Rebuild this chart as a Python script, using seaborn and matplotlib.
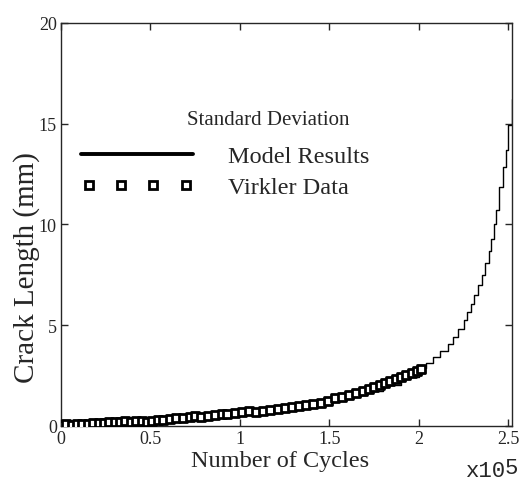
import seaborn as sns
import pandas as pd
import matplotlib.pyplot as plt
from matplotlib.lines import Line2D
from matplotlib.legend_handler import HandlerLine2D

# Model results (x in units of 1e5 cycles, std dev of crack length in mm)
model_x = [0.00, 0.10, 0.20, 0.30, 0.40, 0.50, 0.60, 0.70, 0.80, 0.90,
           1.00, 1.10, 1.20, 1.30, 1.40, 1.50, 1.60, 1.70, 1.80, 1.90,
           2.00, 2.04, 2.08, 2.12, 2.16, 2.19, 2.22, 2.25, 2.27, 2.29,
           2.31, 2.33, 2.35, 2.37, 2.39, 2.40, 2.42, 2.43, 2.45, 2.47,
           2.486, 2.50, 2.52]
model_y = [0.05, 0.10, 0.15, 0.20, 0.25, 0.30, 0.36, 0.44, 0.52, 0.62,
           0.72, 0.82, 0.92, 1.02, 1.15, 1.32, 1.52, 1.75, 2.05, 2.42,
           2.90, 3.15, 3.40, 3.70, 4.05, 4.40, 4.80, 5.25, 5.65, 6.05,
           6.50, 7.00, 7.50, 8.10, 8.70, 9.30, 10.00, 10.70, 11.85, 12.85,
           13.70, 14.95, 16.25]

# Virkler data
virk_x = [0.00, 0.03, 0.06, 0.09, 0.12, 0.15, 0.18, 0.21, 0.24, 0.27,
          0.30, 0.33, 0.36, 0.39, 0.42, 0.45, 0.48, 0.51, 0.54, 0.57,
          0.61, 0.64, 0.68, 0.72, 0.75, 0.78, 0.82, 0.86, 0.90, 0.93,
          0.97, 1.01, 1.05, 1.09, 1.13, 1.17, 1.21, 1.25, 1.29, 1.33,
          1.37, 1.41, 1.45, 1.49, 1.53, 1.57, 1.61, 1.65, 1.69, 1.72,
          1.75, 1.78, 1.81, 1.84, 1.87, 1.90, 1.93, 1.96, 1.99, 2.01]
virk_y = [0.05, 0.08, 0.06, 0.10, 0.12, 0.10, 0.14, 0.13, 0.16, 0.20,
          0.22, 0.20, 0.24, 0.22, 0.25, 0.23, 0.22, 0.26, 0.30, 0.28,
          0.35, 0.38, 0.42, 0.45, 0.48, 0.46, 0.52, 0.55, 0.62, 0.60,
          0.66, 0.70, 0.72, 0.68, 0.75, 0.80, 0.86, 0.90, 0.96, 1.00,
          1.04, 1.10, 1.16, 1.24, 1.38, 1.45, 1.55, 1.62, 1.75, 1.85,
          1.95, 2.05, 2.15, 2.22, 2.35, 2.45, 2.52, 2.62, 2.72, 2.85]

xticks = [0, 0.5, 1, 1.5, 2, 2.5]
xticklabels = ["0", "0.5", "1", "1.5", "2", "2.5"]
yticks = [0, 5, 10, 15, 20]

model = pd.DataFrame({"cycles": model_x, "std": model_y})
virk = pd.DataFrame({"cycles": virk_x, "std": virk_y})

sns.set_style("ticks")
plt.rcParams["font.family"] = ["Liberation Serif", "DejaVu Serif"]

fig = plt.figure(figsize=(5.26, 4.85), dpi=100)
ax = fig.add_axes([61 / 526, 58 / 485, 451 / 526, 403 / 485])

sns.lineplot(data=model, x="cycles", y="std", ax=ax, color="black",
             linewidth=1.0, drawstyle="steps-post", estimator=None, sort=False)
sns.scatterplot(data=virk, x="cycles", y="std", ax=ax, marker="s", s=26,
                facecolor="white", edgecolor="black", linewidth=2.0, zorder=3)

ax.set_xlim(0, 2.52)
ax.set_ylim(0, 20)
ax.set_xticks(xticks)
ax.set_xticklabels(xticklabels)
ax.set_yticks(yticks)
ax.tick_params(direction="in", top=True, right=True, length=5, width=1,
               labelsize=13, pad=3)
for s in ax.spines.values():
    s.set_linewidth(1.0)
    s.set_visible(True)

ax.set_xlabel("Number of Cycles", fontsize=17.5)
ax.xaxis.set_label_coords((280 - 61) / 451, -(451 - 427) / 403)
ax.set_ylabel("Crack Length (mm)", fontsize=21)
ax.yaxis.set_label_coords(-(61 - 40) / 451, (427 - 268) / 403)
fig.text(466 / 526, 1 - 477 / 485, "x10", fontsize=16, va="baseline",
         family="Liberation Mono")
fig.text(505 / 526, 1 - 474 / 485, "5", fontsize=16, va="baseline",
         family="Liberation Mono")

ax.text((268 - 61) / 451, (427 - 121) / 403, "Standard Deviation",
        transform=ax.transAxes, ha="center", va="center", fontsize=15)
handles = [Line2D([], [], color="black", lw=2.8),
           Line2D([], [], marker="s", ls="none", mfc="white", mec="black",
                  mew=2.0, ms=6)]
ax.legend(handles, ["Model Results", "Virkler Data"], loc="upper left",
          bbox_to_anchor=((74 - 61) / 451, (427 - 146) / 403),
          frameon=False, fontsize=17.5, borderpad=0, borderaxespad=0,
          handlelength=5.2, handletextpad=1.15, labelspacing=0.37,
          numpoints=4, handler_map={handles[1]: HandlerLine2D(marker_pad=0.6)})

fig.savefig("out.png", dpi=100)
